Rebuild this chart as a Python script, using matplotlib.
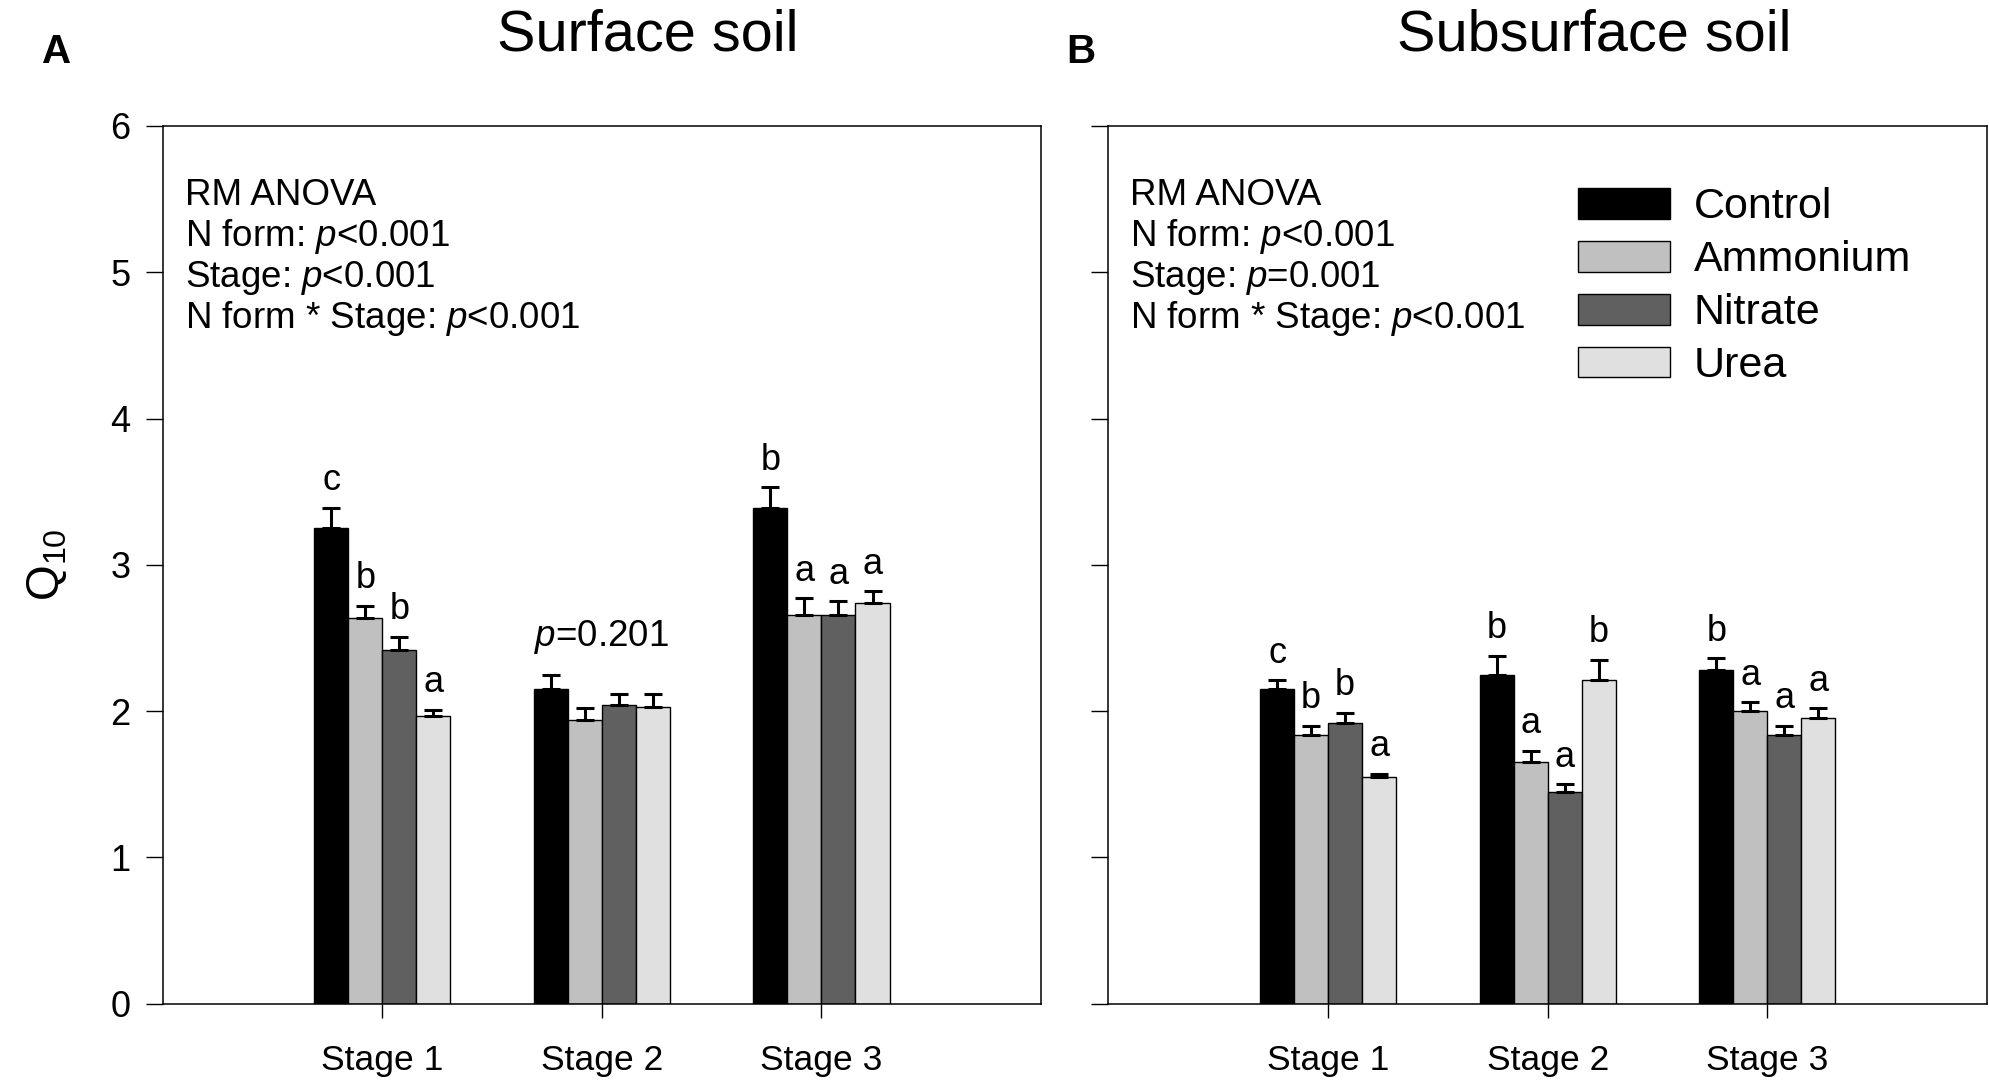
import numpy as np
import matplotlib.pyplot as plt
from matplotlib.patches import Patch

plt.rcParams['font.family'] = ['Liberation Sans', 'DejaVu Sans']
plt.rcParams['mathtext.fontset'] = 'custom'
plt.rcParams['mathtext.rm'] = 'Liberation Sans'
plt.rcParams['mathtext.it'] = 'Liberation Sans:italic'

## the data
stages = ['Stage 1', 'Stage 2', 'Stage 3']
treatments = ['Control', 'Ammonium', 'Nitrate', 'Urea']
colors = ['#000000', '#c0c0c0', '#606060', '#e0e0e0']

# surface soil, rows = treatment, cols = stage
surf_mean = [[3.25, 2.15, 3.39],
             [2.64, 1.94, 2.66],
             [2.42, 2.04, 2.66],
             [1.97, 2.03, 2.74]]
surf_se = [[0.14, 0.10, 0.14],
           [0.08, 0.08, 0.11],
           [0.09, 0.08, 0.09],
           [0.04, 0.09, 0.08]]
surf_letters = [['c', '', 'b'],
                ['b', '', 'a'],
                ['b', '', 'a'],
                ['a', '', 'a']]

# subsurface soil
sub_mean = [[2.15, 2.25, 2.28],
            [1.84, 1.65, 2.00],
            [1.92, 1.45, 1.84],
            [1.55, 2.21, 1.95]]
sub_se = [[0.06, 0.13, 0.08],
          [0.06, 0.08, 0.06],
          [0.07, 0.05, 0.06],
          [0.02, 0.14, 0.07]]
sub_letters = [['c', 'b', 'b'],
               ['b', 'a', 'a'],
               ['b', 'a', 'a'],
               ['a', 'b', 'a']]

surf_stats = ['RM ANOVA', 'N form: $p$<0.001', 'Stage: $p$<0.001',
              'N form * Stage: $p$<0.001']
sub_stats = ['RM ANOVA', 'N form: $p$<0.001', 'Stage: $p$=0.001',
             'N form * Stage: $p$<0.001']

## necessary variables
ind = np.arange(1, len(stages) + 1)
width = 0.155

fig = plt.figure(figsize=(19.89, 10.85), dpi=100)
axA = fig.add_axes([0.0818, 0.0749, 0.4416, 0.809])
axB = fig.add_axes([0.5573, 0.0749, 0.4417, 0.809])


def draw_panel(ax, means, ses, letters, stats):
    rects = []
    for i in range(len(treatments)):
        x = ind + (i - 1.5) * width
        m = np.array(means[i])
        e = np.array(ses[i])
        r = ax.bar(x, m, width, color=colors[i], edgecolor='black',
                   linewidth=1.0, zorder=2)
        rects.append(r)
        ax.errorbar(x, m, yerr=[np.zeros_like(e), e], fmt='none',
                    ecolor='black', elinewidth=2.2, capsize=6.5,
                    capthick=2.2, zorder=3)
        for xi, mi, ei, lab in zip(x, m, e, letters[i]):
            if lab:
                ax.text(xi, mi + ei + 0.12, lab, ha='center',
                        va='baseline', fontsize=26)
    for k, line in enumerate(stats):
        ax.text(0.1, 5.457 - 0.28 * k, line, fontsize=26.5, va='baseline')
    ax.set_xlim(0, 4)
    ax.set_ylim(0, 6)
    ax.set_xticks(ind)
    ax.set_xticklabels(stages)
    ax.set_yticks(range(7))
    ax.tick_params(axis='y', direction='out', length=12.2, width=1.0,
                   labelsize=26, pad=11)
    ax.tick_params(axis='x', direction='out', length=10, width=1.0,
                   labelsize=25.5, pad=19)
    for s in ax.spines.values():
        s.set_linewidth(1.1)
    return rects


draw_panel(axA, surf_mean, surf_se, surf_letters, surf_stats)
axA.text(2, 2.448, '$p$=0.201', ha='center', va='baseline', fontsize=26.5)
axA.set_ylabel('Q$_{10}$', fontsize=33, labelpad=30)

rects = draw_panel(axB, sub_mean, sub_se, sub_letters, sub_stats)
axB.set_yticklabels([])

handles = [Patch(facecolor=c, edgecolor='black', linewidth=1.0) for c in colors]
axB.legend(handles, treatments, loc='upper left', bbox_to_anchor=(0.534, 0.93),
           frameon=False, fontsize=31, handlelength=2.15, handleheight=0.72,
           handletextpad=0.55, labelspacing=0.3, borderpad=0, borderaxespad=0)

# titles and panel letters
fig.text(0.3256, 0.953, 'Surface soil', ha='center', va='baseline', fontsize=41.5)
fig.text(0.8014, 0.953, 'Subsurface soil', ha='center', va='baseline', fontsize=41.5)
fig.text(0.0209, 0.9418, 'A', fontsize=29, fontweight='bold', va='baseline')
fig.text(0.536, 0.9418, 'B', fontsize=29, fontweight='bold', va='baseline')

fig.savefig('out.png', dpi=100)
